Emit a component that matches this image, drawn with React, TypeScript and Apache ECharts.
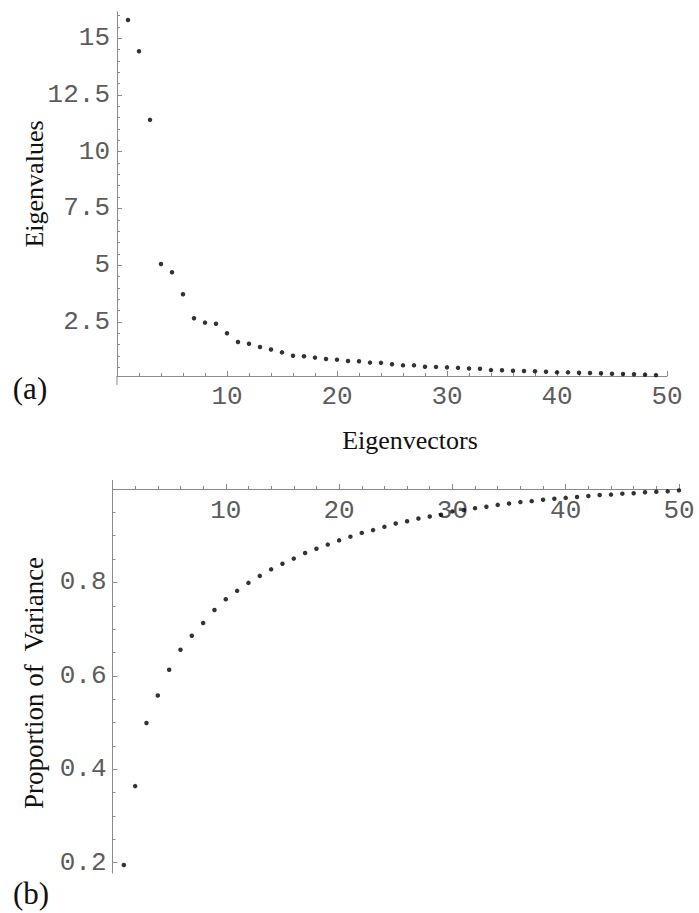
import React, { useEffect, useRef } from "react";
import * as echarts from "echarts";

// Eigenvalues (panel a), x = 1..49
const eigenvalues = [
  15.8, 14.42, 11.4, 5.05, 4.69, 3.72, 2.66, 2.47, 2.42, 2.0,
  1.62, 1.54, 1.40, 1.29, 1.16, 1.01, 0.99, 0.93, 0.87, 0.84,
  0.78, 0.77, 0.71, 0.70, 0.64, 0.59, 0.59, 0.53, 0.52, 0.50,
  0.48, 0.45, 0.44, 0.38, 0.37, 0.35, 0.34, 0.33, 0.31, 0.28,
  0.28, 0.26, 0.25, 0.24, 0.22, 0.21, 0.20, 0.18, 0.16,
];

// Cumulative proportion of variance (panel b), x = 1..50
const proportion = [
  0.195, 0.364, 0.499, 0.558, 0.613, 0.656, 0.686, 0.713, 0.741, 0.764,
  0.782, 0.799, 0.814, 0.828, 0.840, 0.851, 0.863, 0.872, 0.881, 0.890,
  0.898, 0.906, 0.912, 0.919, 0.926, 0.931, 0.937, 0.941, 0.945, 0.952,
  0.955, 0.959, 0.962, 0.966, 0.969, 0.972, 0.974, 0.977, 0.979, 0.981,
  0.983, 0.985, 0.987, 0.988, 0.990, 0.991, 0.993, 0.994, 0.995, 0.997,
];

const xMajorTicks = [10, 20, 30, 40, 50];
const xMinorTicks = [2, 4, 6, 8, 12, 14, 16, 18, 22, 24, 26, 28, 32, 34, 36, 38, 42, 44, 46, 48];
const topYMajorTicks = [2.5, 5, 7.5, 10, 12.5, 15];
const bottomYMajorTicks = [0.2, 0.4, 0.6, 0.8];

const topYMinorTicks: number[] = [];
for (let k = 1; k <= 32; k++) topYMinorTicks.push(k * 0.5);
const bottomYMinorTicks: number[] = [];
for (let k = 4; k <= 19; k++) bottomYMinorTicks.push(Math.round(k * 5) / 100);

const AXIS_COLOR = "#8a8a8a";
const LABEL_COLOR = "#5c5c5c";
const MONO = "'Liberation Mono', 'DejaVu Sans Mono', monospace";
const SERIF = "'Liberation Serif', 'DejaVu Serif', serif";

export default function App() {
  const ref = useRef<HTMLDivElement>(null);

  useEffect(() => {
    if (!ref.current) return;
    const chart = echarts.init(ref.current, undefined, { renderer: "svg" });

    const labelStyle = {
      color: LABEL_COLOR,
      fontFamily: MONO,
      fontSize: 26,
    };

    const topData = eigenvalues.map((v, i) => [i + 1, v]);
    const bottomData = proportion.map((v, i) => [i + 1, v]);

    const option: any = {
      animation: false,
      backgroundColor: "#ffffff",
      grid: [
        { left: 117, top: 12, width: 550, height: 364, outerBoundsMode: "none" },
        { left: 112.5, top: 489, width: 566.5, height: 384, outerBoundsMode: "none" },
      ],
      xAxis: [
        {
          type: "value", gridIndex: 0, min: 0, max: 50, position: "bottom",
          axisLine: { show: true, onZero: false, lineStyle: { color: AXIS_COLOR, width: 1 } },
          axisTick: { show: true, inside: true, length: 5, customValues: xMajorTicks, lineStyle: { color: AXIS_COLOR } },
          axisLabel: { show: true, margin: 8, customValues: xMajorTicks, ...labelStyle },
          splitLine: { show: false },
        },
        {
          type: "value", gridIndex: 0, min: 0, max: 50, position: "bottom",
          axisLine: { show: false, onZero: false },
          axisTick: { show: true, inside: true, length: 3, customValues: xMinorTicks, lineStyle: { color: AXIS_COLOR } },
          axisLabel: { show: false },
          splitLine: { show: false },
        },
        {
          type: "value", gridIndex: 1, min: 0, max: 50, position: "top",
          axisLine: { show: true, onZero: false, lineStyle: { color: AXIS_COLOR, width: 1 } },
          axisTick: { show: true, inside: false, length: 5, customValues: xMajorTicks, lineStyle: { color: AXIS_COLOR } },
          axisLabel: { show: true, inside: true, margin: 9, customValues: xMajorTicks, verticalAlign: "top", ...labelStyle },
          splitLine: { show: false },
        },
        {
          type: "value", gridIndex: 1, min: 0, max: 50, position: "top",
          axisLine: { show: false, onZero: false },
          axisTick: { show: true, inside: false, length: 3, customValues: xMinorTicks, lineStyle: { color: AXIS_COLOR } },
          axisLabel: { show: false },
          splitLine: { show: false },
        },
      ],
      yAxis: [
        {
          type: "value", gridIndex: 0, min: 0.12, max: 16.15, position: "left",
          axisLine: { show: true, onZero: false, lineStyle: { color: AXIS_COLOR, width: 1 } },
          axisTick: { show: true, inside: true, length: 5, customValues: topYMajorTicks, lineStyle: { color: AXIS_COLOR } },
          axisLabel: { show: true, margin: 7, customValues: topYMajorTicks, formatter: (v: number) => String(v), ...labelStyle },
          splitLine: { show: false },
        },
        {
          type: "value", gridIndex: 0, min: 0.12, max: 16.15, position: "left",
          axisLine: { show: false, onZero: false },
          axisTick: { show: true, inside: true, length: 3, customValues: topYMinorTicks, lineStyle: { color: AXIS_COLOR } },
          axisLabel: { show: false },
          splitLine: { show: false },
        },
        {
          type: "value", gridIndex: 1, min: 0.178, max: 1.0, position: "left",
          axisLine: { show: true, onZero: false, lineStyle: { color: AXIS_COLOR, width: 1 } },
          axisTick: { show: true, inside: true, length: 5, customValues: bottomYMajorTicks, lineStyle: { color: AXIS_COLOR } },
          axisLabel: { show: true, margin: 6, customValues: bottomYMajorTicks, formatter: (v: number) => v.toFixed(1), ...labelStyle },
          splitLine: { show: false },
        },
        {
          type: "value", gridIndex: 1, min: 0.178, max: 1.0, position: "left",
          axisLine: { show: false, onZero: false },
          axisTick: { show: true, inside: true, length: 3, customValues: bottomYMinorTicks, lineStyle: { color: AXIS_COLOR } },
          axisLabel: { show: false },
          splitLine: { show: false },
        },
      ],
      series: [
        {
          type: "scatter", xAxisIndex: 0, yAxisIndex: 0, data: topData,
          symbol: "circle", symbolSize: 4.5, clip: false,
          itemStyle: { color: "#000000" }, z: 5,
        },
        {
          type: "scatter", xAxisIndex: 2, yAxisIndex: 2, data: bottomData,
          symbol: "circle", symbolSize: 4.5, clip: false,
          itemStyle: { color: "#000000" }, z: 5,
        },
      ],
      graphic: [
        { type: "line", shape: { x1: 117, y1: 376, x2: 117, y2: 385 }, style: { stroke: AXIS_COLOR, lineWidth: 1 } },
        { type: "line", shape: { x1: 112.5, y1: 480, x2: 112.5, y2: 489 }, style: { stroke: AXIS_COLOR, lineWidth: 1 } },
        {
          type: "text", x: 34, y: 184, rotation: Math.PI / 2,
          style: { text: "Eigenvalues", font: `26px ${SERIF}`, fill: "#111", textAlign: "center", textVerticalAlign: "middle" },
        },
        {
          type: "text", x: 34, y: 683, rotation: Math.PI / 2,
          style: { text: "Proportion of  Variance", font: `27px ${SERIF}`, fill: "#111", textAlign: "center", textVerticalAlign: "middle" },
        },
        {
          type: "text", x: 410, y: 440,
          style: { text: "Eigenvectors", font: `26px ${SERIF}`, fill: "#111", textAlign: "center", textVerticalAlign: "middle" },
        },
        {
          type: "text", x: 30, y: 388,
          style: { text: "(a)", font: `31px ${SERIF}`, fill: "#111", textAlign: "center", textVerticalAlign: "middle" },
        },
        {
          type: "text", x: 31, y: 893,
          style: { text: "(b)", font: `31px ${SERIF}`, fill: "#111", textAlign: "center", textVerticalAlign: "middle" },
        },
      ],
    };

    chart.setOption(option);
    return () => chart.dispose();
  }, []);

  return (
    <div
      ref={ref}
      style={{ position: "absolute", left: 0, top: 0, width: 699, height: 913, background: "#fff" }}
    />
  );
}
